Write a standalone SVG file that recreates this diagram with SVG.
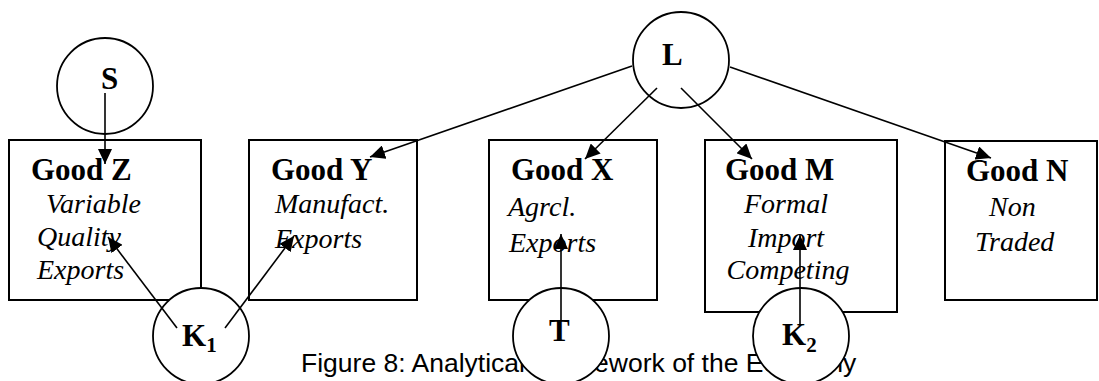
<svg xmlns="http://www.w3.org/2000/svg" width="1099" height="381" viewBox="0 0 1099 381">
<style>
.box{fill:#fff;stroke:#000;stroke-width:2}
.circ{fill:#fff;stroke:#000;stroke-width:1.8}
.hd{font-family:"Liberation Serif","Times New Roman",serif;font-weight:bold;font-size:31px;fill:#000}
.it{font-family:"Liberation Serif","Times New Roman",serif;font-style:italic;font-size:28px;fill:#000}
.cl{font-family:"Liberation Serif","Times New Roman",serif;font-weight:bold;font-size:31px;fill:#000}
.sub{font-size:21px}
.cap{font-family:"Liberation Sans",Arial,sans-serif;font-size:26.5px;fill:#000}
.arr{stroke:#000;stroke-width:1.6;fill:none;marker-end:url(#ah)}
</style>
<defs>
<marker id="ah" markerUnits="userSpaceOnUse" markerWidth="16" markerHeight="14" refX="15" refY="7" orient="auto">
<path d="M0,0 L15,7 L0,14 z" fill="#000"/>
</marker>
</defs>
<rect width="1099" height="381" fill="#fff"/>

<g id="goodZ">
<rect class="box" x="9" y="140" width="192" height="160"/>
<text class="hd" x="31" y="180">Good Z</text>
<text class="it" x="46" y="213">Variable</text>
<text class="it" x="37" y="246">Quality</text>
<text class="it" x="37" y="279">Exports</text>
</g>
<g id="goodY">
<rect class="box" x="249" y="140" width="168" height="160"/>
<text class="hd" x="271" y="180">Good Y</text>
<text class="it" x="275" y="213">Manufact.</text>
<text class="it" x="275" y="248">Exports</text>
</g>
<g id="goodX">
<rect class="box" x="489" y="140" width="168" height="160"/>
<text class="hd" x="511" y="180">Good X</text>
<text class="it" x="508" y="216">Agrcl.</text>
<text class="it" x="509" y="252">Exports</text>
</g>
<g id="goodM">
<rect class="box" x="705" y="140" width="192" height="172"/>
<text class="hd" x="725" y="180">Good M</text>
<text class="it" x="786" y="213" text-anchor="middle">Formal</text>
<text class="it" x="786" y="247" text-anchor="middle">Import</text>
<text class="it" x="788" y="279" text-anchor="middle">Competing</text>
</g>
<g id="goodN">
<rect class="box" x="945" y="141" width="152" height="159"/>
<text class="hd" x="966" y="181">Good N</text>
<text class="it" x="989" y="216">Non</text>
<text class="it" x="975" y="251">Traded</text>
</g>

<text id="caption" class="cap" x="301" y="372">Figure 8: Analytical Framework of the Economy</text>

<g id="S">
<circle class="circ" cx="105" cy="86" r="48"/>
<text class="cl" x="101" y="89">S</text>
</g>
<g id="L">
<circle class="circ" cx="681" cy="60" r="48"/>
<text class="cl" x="662" y="65">L</text>
</g>
<g id="K1">
<circle class="circ" cx="201" cy="336" r="48"/>
<text class="cl" x="182" y="346">K<tspan class="sub" dy="6">1</tspan></text>
</g>
<g id="T">
<circle class="circ" cx="561" cy="336" r="48"/>
<text class="cl" x="549" y="341">T</text>
</g>
<g id="K2">
<circle class="circ" cx="801" cy="336" r="48"/>
<text class="cl" x="782" y="345">K<tspan class="sub" dy="7">2</tspan></text>
</g>

<g id="connectors">
<line class="arr" x1="105" y1="93" x2="105" y2="164"/>
<line class="arr" x1="632" y1="66" x2="370" y2="157"/>
<line class="arr" x1="657" y1="88" x2="585" y2="159"/>
<line class="arr" x1="681" y1="88" x2="752" y2="159"/>
<line class="arr" x1="730" y1="67" x2="991" y2="158"/>
<line class="arr" x1="177" y1="328" x2="108" y2="237"/>
<line class="arr" x1="225" y1="328" x2="294" y2="236"/>
<line class="arr" x1="561" y1="320" x2="561" y2="234"/>
<line class="arr" x1="800" y1="325" x2="800" y2="235"/>
</g>
</svg>
